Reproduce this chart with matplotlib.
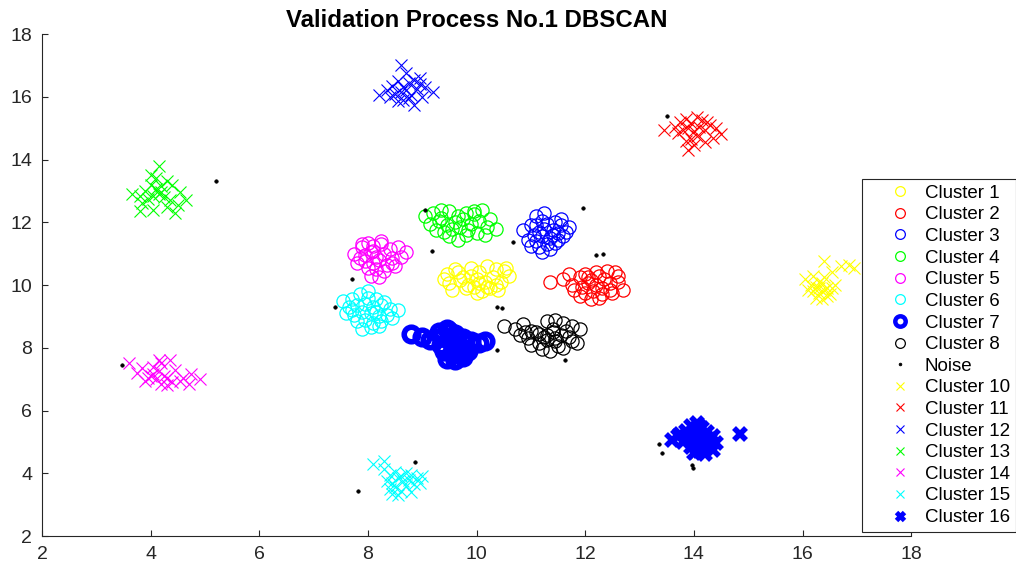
import matplotlib
matplotlib.use("Agg")
import matplotlib.pyplot as plt

plt.rcParams['font.family'] = ['Liberation Sans', 'DejaVu Sans']

# ---- cluster data (x, y) ----
c1_x = [9.45, 9.6, 9.75, 9.9, 10.05, 10.2, 10.35, 10.5, 10.6, 9.5, 9.7, 9.85, 10.0, 10.15, 10.3, 10.45,
        9.55, 9.8, 9.95, 10.1, 10.25, 10.4, 9.65, 9.9, 10.05, 10.2, 10.35, 9.4, 10.55, 10.0]
c1_y = [10.35, 10.5, 10.25, 10.55, 10.4, 10.6, 10.5, 10.45, 10.3, 10.05, 10.15, 10.0, 10.2, 10.1, 10.25, 10.1,
        9.85, 9.9, 9.95, 9.8, 9.9, 9.85, 10.4, 10.3, 10.05, 9.95, 10.0, 10.2, 10.55, 9.75]

c2_x = [11.35, 11.6, 11.75, 11.9, 12.0, 12.1, 12.25, 12.4, 12.55, 12.7, 11.8, 11.95, 12.05, 12.2, 12.3, 12.45,
        12.6, 11.9, 12.0, 12.15, 12.3, 12.45, 12.1, 12.25, 11.7, 12.35, 12.5, 12.05, 12.2, 12.6]
c2_y = [10.1, 10.2, 10.0, 10.25, 10.35, 10.15, 10.3, 10.45, 10.4, 9.85, 9.85, 9.95, 10.05, 10.0, 9.9, 10.05,
        10.1, 9.65, 9.75, 9.8, 9.7, 9.85, 9.55, 9.6, 10.35, 10.2, 9.75, 10.25, 10.4, 10.3]

c3_x = [10.85, 11.0, 11.1, 11.2, 11.3, 11.45, 11.55, 11.7, 11.05, 11.15, 11.25, 11.4, 11.5, 11.6, 10.95, 11.1,
        11.2, 11.35, 11.5, 11.65, 11.0, 11.15, 11.3, 11.45, 11.2, 11.35, 11.1, 11.55, 11.25, 11.4]
c3_y = [11.75, 11.9, 12.2, 12.05, 11.95, 12.0, 11.9, 11.85, 11.6, 11.7, 11.8, 11.75, 11.65, 11.55, 11.45, 11.4,
        11.55, 11.5, 11.45, 11.7, 11.25, 11.2, 11.3, 11.35, 11.05, 11.15, 11.9, 12.1, 12.3, 11.6]

c4_x = [9.05, 9.2, 9.35, 9.5, 9.65, 9.8, 9.95, 10.1, 10.25, 9.15, 9.3, 9.45, 9.6, 9.75, 9.9, 10.05,
        10.2, 10.35, 9.25, 9.4, 9.55, 9.7, 9.85, 10.0, 9.5, 9.65, 9.8, 9.35, 9.95, 10.15]
c4_y = [12.2, 12.3, 12.15, 12.35, 12.2, 12.3, 12.25, 12.4, 12.1, 11.95, 12.05, 11.9, 12.0, 12.1, 11.95, 12.05,
        11.85, 11.8, 11.75, 11.7, 11.8, 11.85, 11.75, 11.65, 11.55, 11.45, 11.6, 12.4, 12.35, 11.6]

c5_x = [7.75, 7.9, 8.0, 8.1, 8.25, 8.4, 8.55, 8.7, 7.85, 7.95, 8.05, 8.15, 8.3, 8.45, 8.6, 7.8,
        7.95, 8.1, 8.2, 8.35, 8.5, 8.0, 8.15, 8.3, 8.05, 8.2, 7.9, 8.1, 8.45, 8.25]
c5_y = [11.0, 11.2, 11.35, 11.1, 11.3, 11.15, 11.2, 11.05, 10.85, 10.95, 11.05, 10.9, 11.0, 10.85, 10.9, 10.7,
        10.75, 10.7, 10.8, 10.65, 10.6, 10.55, 10.5, 10.45, 10.3, 10.25, 11.3, 11.25, 10.7, 11.4]

c6_x = [7.55, 7.7, 7.85, 8.0, 8.15, 8.3, 7.65, 7.8, 7.95, 8.1, 8.25, 8.4, 8.55, 7.6, 7.75, 7.9,
        8.05, 8.2, 8.35, 7.8, 7.95, 8.1, 8.25, 7.9, 8.05, 8.2, 8.0, 7.7, 8.15, 8.45]
c6_y = [9.5, 9.55, 9.7, 9.6, 9.55, 9.45, 9.3, 9.35, 9.4, 9.3, 9.35, 9.25, 9.2, 9.1, 9.05, 9.15,
        9.1, 9.0, 9.05, 8.85, 8.9, 8.8, 8.85, 8.6, 8.65, 8.7, 9.8, 9.2, 9.15, 8.95]

c7_x = [8.8, 9.0, 9.15, 9.3, 9.45, 9.6, 9.75, 9.9, 10.05, 10.15, 9.35, 9.5, 9.65, 9.8, 9.4, 9.55,
        9.7, 9.85, 9.45, 9.6, 9.75, 9.5, 9.65, 9.35]
c7_y = [8.45, 8.35, 8.25, 8.5, 8.6, 8.45, 8.3, 8.2, 8.15, 8.2, 8.1, 8.25, 8.1, 7.95, 7.9, 7.85,
        7.8, 7.9, 7.65, 7.6, 7.7, 8.55, 8.0, 8.35]

c8_x = [10.5, 10.7, 10.85, 11.0, 11.15, 11.3, 11.45, 11.6, 11.75, 11.9, 10.8, 10.95, 11.1, 11.25, 11.4, 11.55,
        11.7, 11.85, 11.0, 11.15, 11.3, 11.45, 11.6, 11.75, 11.2, 11.35, 11.5, 10.9, 11.4, 11.65, 11.3, 11.45]
c8_y = [8.7, 8.6, 8.75, 8.55, 8.45, 8.85, 8.9, 8.8, 8.7, 8.6, 8.4, 8.3, 8.5, 8.35, 8.5, 8.4,
        8.35, 8.15, 8.1, 8.15, 8.25, 8.2, 8.0, 8.2, 7.95, 7.9, 8.05, 8.5, 8.6, 8.55, 8.4, 8.3]

noise_x = [5.2, 13.5, 9.05, 9.18, 10.67, 11.96, 12.2, 12.33, 10.38, 10.47, 10.38, 11.63, 7.71, 7.4,
           3.47, 8.87, 7.82, 13.36, 13.42, 13.93, 13.97, 13.99]
noise_y = [13.3, 15.4, 12.39, 11.1, 11.37, 12.45, 10.96, 10.99, 9.3, 9.27, 7.93, 7.6, 10.19, 9.3,
           7.45, 4.36, 3.43, 4.93, 4.64, 4.52, 4.26, 4.17]

c10_x = [16.05, 16.2, 16.3, 16.4, 16.55, 16.7, 16.85, 16.95, 16.15, 16.25, 16.35, 16.45, 16.6, 16.2, 16.3, 16.4,
         16.5, 16.25, 16.35, 16.45, 16.3, 16.4, 16.55, 16.1]
c10_y = [10.2, 10.3, 10.1, 10.25, 10.4, 10.6, 10.65, 10.55, 10.0, 9.95, 10.05, 9.9, 10.0, 9.8, 9.75, 9.85,
         9.7, 9.6, 9.55, 9.65, 9.9, 10.75, 9.9, 9.85]

c11_x = [13.45, 13.65, 13.75, 13.85, 13.95, 14.05, 14.15, 14.3, 14.4, 14.5, 13.7, 13.8, 13.9, 14.0, 14.1, 14.2,
         14.35, 13.85, 13.95, 14.05, 14.2, 13.9, 14.0, 14.25]
c11_y = [14.95, 15.05, 15.2, 15.3, 15.15, 15.35, 15.25, 15.1, 15.0, 14.8, 14.85, 14.95, 15.0, 14.9, 15.05, 14.95,
         14.7, 14.6, 14.65, 14.75, 14.55, 14.3, 14.45, 15.2]

c12_x = [8.2, 8.35, 8.45, 8.55, 8.65, 8.75, 8.85, 8.95, 9.05, 9.2, 8.4, 8.5, 8.6, 8.7, 8.8, 8.9,
         9.0, 8.55, 8.65, 8.75, 8.85, 8.6, 8.7, 8.95]
c12_y = [16.05, 16.2, 16.35, 16.5, 16.3, 16.45, 16.55, 16.4, 16.3, 16.15, 16.0, 16.1, 16.15, 16.2, 16.05, 16.25,
         16.0, 15.85, 15.9, 15.95, 15.75, 17.0, 16.75, 16.6]

c13_x = [3.65, 3.8, 3.9, 4.0, 4.1, 4.2, 4.3, 4.4, 4.55, 4.65, 3.85, 3.95, 4.05, 4.15, 4.25, 4.35,
         4.5, 4.0, 4.1, 4.2, 4.3, 4.45, 4.05, 4.15, 3.8]
c13_y = [12.9, 12.85, 13.0, 13.2, 13.05, 13.15, 13.3, 13.2, 12.95, 12.7, 12.6, 12.75, 12.85, 12.9, 12.8, 12.7,
         12.55, 13.5, 13.4, 12.95, 12.5, 12.3, 12.4, 13.8, 12.35]

c14_x = [3.6, 3.75, 3.85, 3.95, 4.05, 4.15, 4.25, 4.35, 4.45, 4.6, 4.75, 4.9, 3.9, 4.0, 4.1, 4.2,
         4.3, 4.4, 4.55, 4.7, 4.05, 4.2, 4.3, 4.15]
c14_y = [7.5, 7.2, 7.35, 7.05, 7.15, 7.25, 7.1, 7.6, 7.3, 7.05, 7.15, 7.0, 6.95, 7.1, 7.0, 6.85,
         7.05, 6.9, 6.95, 6.85, 7.4, 7.5, 6.8, 7.6]

c15_x = [8.1, 8.3, 8.4, 8.5, 8.6, 8.7, 8.8, 8.9, 9.0, 8.35, 8.45, 8.55, 8.65, 8.75, 8.85, 8.95,
         8.4, 8.5, 8.6, 8.7, 8.45, 8.55, 8.8, 8.3]
c15_y = [4.3, 4.15, 3.95, 4.05, 3.9, 4.0, 3.95, 3.85, 3.9, 3.75, 3.7, 3.85, 3.75, 3.8, 3.65, 3.7,
         3.5, 3.55, 3.45, 3.6, 3.35, 3.3, 3.4, 4.4]

c16_x = [13.6, 13.75, 13.85, 13.95, 14.05, 14.15, 14.25, 14.35, 14.85, 13.8, 13.9, 14.0, 14.1, 14.2, 14.3, 14.4,
         13.95, 14.05, 14.15, 14.25, 14.35, 14.0, 14.1, 14.2, 13.7, 14.1]
c16_y = [5.05, 5.25, 5.35, 5.5, 5.6, 5.45, 5.3, 5.2, 5.25, 5.0, 5.15, 5.25, 5.35, 5.05, 5.1, 4.95,
         4.85, 4.95, 4.8, 4.9, 4.75, 4.65, 4.7, 4.6, 5.2, 5.5]

series_labels = ["Cluster 1", "Cluster 2", "Cluster 3", "Cluster 4", "Cluster 5", "Cluster 6",
                 "Cluster 7", "Cluster 8", "Noise", "Cluster 10", "Cluster 11", "Cluster 12",
                 "Cluster 13", "Cluster 14", "Cluster 15", "Cluster 16"]
series_x = [c1_x, c2_x, c3_x, c4_x, c5_x, c6_x, c7_x, c8_x, noise_x,
            c10_x, c11_x, c12_x, c13_x, c14_x, c15_x, c16_x]
series_y = [c1_y, c2_y, c3_y, c4_y, c5_y, c6_y, c7_y, c8_y, noise_y,
            c10_y, c11_y, c12_y, c13_y, c14_y, c15_y, c16_y]

# marker styles: (color, marker, size, edge width)
styles = [
    ("#ffff00", "o", 9.5, 0.9),
    ("#ff0000", "o", 9.5, 0.9),
    ("#0000ff", "o", 9.5, 0.9),
    ("#00ff00", "o", 9.5, 0.9),
    ("#ff00ff", "o", 9.5, 0.9),
    ("#00ffff", "o", 9.5, 0.9),
    ("#0000ff", "o", 10.5, 4.0),
    ("#000000", "o", 9.5, 0.9),
    ("#000000", ".", 5.0, 0.5),
    ("#ffff00", "x", 8.0, 0.8),
    ("#ff0000", "x", 8.0, 0.8),
    ("#0000ff", "x", 8.0, 0.8),
    ("#00ff00", "x", 8.0, 0.8),
    ("#ff00ff", "x", 8.0, 0.8),
    ("#00ffff", "x", 8.0, 0.8),
    ("#0000ff", "x", 8.0, 4.0),
]

fig = plt.figure(figsize=(10.16, 5.65), dpi=100)
ax = fig.add_axes([0.0413, 0.0513, 0.8555, 0.8885])

for xs, ys, lab, (col, mk, ms, mew) in zip(series_x, series_y, series_labels, styles):
    ax.plot(xs, ys, linestyle="none", marker=mk, markersize=ms,
            markerfacecolor="none" if mk in ("o", "x") else col,
            markeredgecolor=col, markeredgewidth=mew, label=lab)

ax.set_xlim(2, 18)
ax.set_ylim(2, 18)
ax.set_xticks(range(2, 19, 2))
ax.set_yticks(range(2, 19, 2))

axis_col = "#262626"
for side in ("top", "right"):
    ax.spines[side].set_visible(False)
for side in ("left", "bottom"):
    ax.spines[side].set_color(axis_col)
    ax.spines[side].set_linewidth(0.8)
ax.tick_params(direction="in", length=4, width=0.8, colors=axis_col,
               labelsize=14, labelcolor=axis_col)
ax.tick_params(axis="x", pad=7)
ax.tick_params(axis="y", pad=7)

ax.set_title("Validation Process No.1 DBSCAN", fontsize=17.3, fontweight="bold", pad=5)

leg = ax.legend(loc="upper left", bbox_to_anchor=(862 / 1016, 1 - 179 / 565),
                bbox_transform=fig.transFigure, fontsize=13.5, numpoints=1,
                labelspacing=0.24, borderpad=0.3, handlelength=3.4, handletextpad=-0.35,
                fancybox=False, framealpha=1.0, edgecolor="#262626", borderaxespad=0)
leg.get_frame().set_linewidth(0.8)

# smaller markers inside the legend
for h, (col, mk, ms, mew) in zip(leg.legend_handles, styles):
    if mk == "o":
        h.set_markersize(7.0 if mew < 2 else 7.5)
        h.set_markeredgewidth(mew if mew < 2 else 3.2)
    elif mk == "x":
        h.set_markersize(6.0)
        h.set_markeredgewidth(mew if mew < 2 else 3.5)
    else:
        h.set_markersize(4.0)

fig.savefig("out.png", dpi=100)
